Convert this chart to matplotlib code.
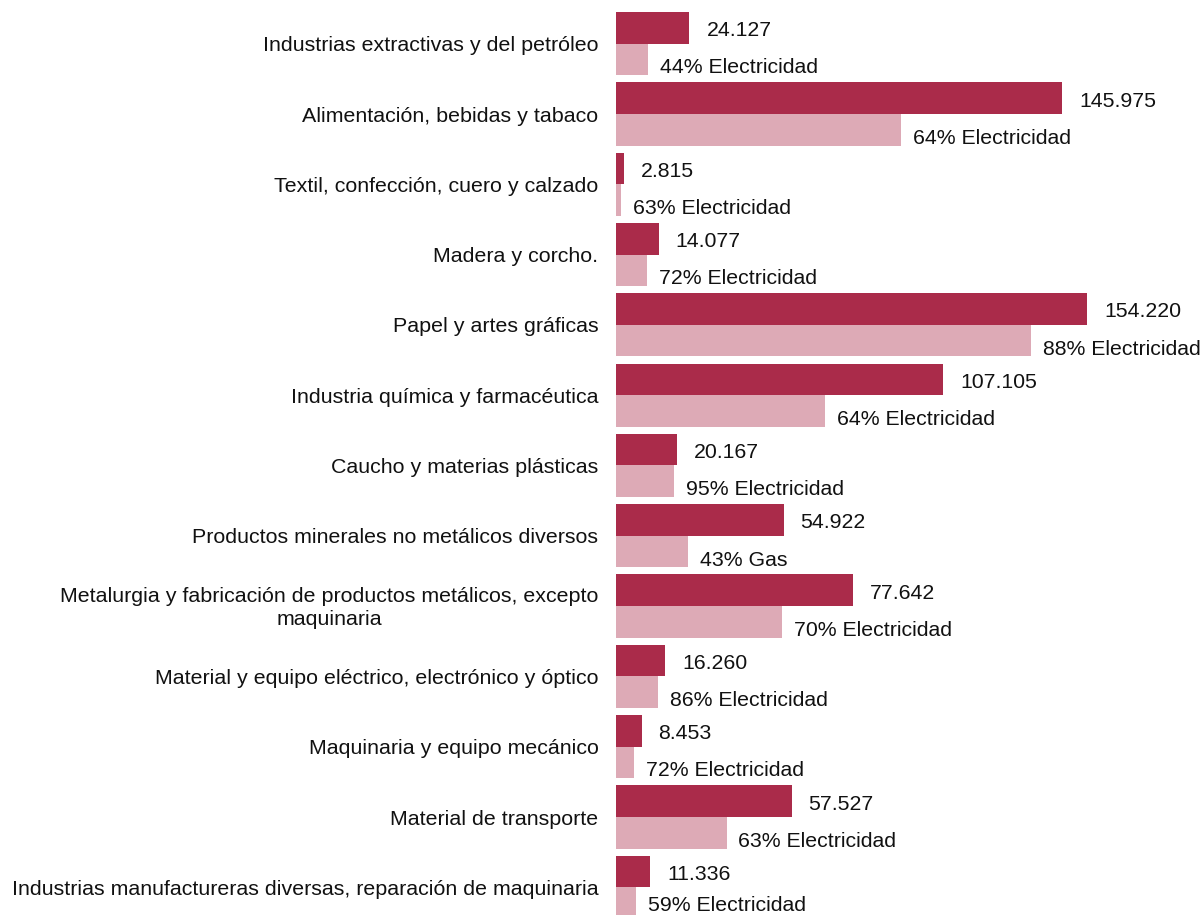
import matplotlib
matplotlib.use("Agg")
import matplotlib.pyplot as plt

# ---------------------------------------------------------------------
# Data
# ---------------------------------------------------------------------

categories = [
    "Industrias extractivas y del petróleo",
    "Alimentación, bebidas y tabaco",
    "Textil, confección, cuero y calzado",
    "Madera y corcho.",
    "Papel y artes gráficas",
    "Industria química y farmacéutica",
    "Caucho y materias plásticas",
    "Productos minerales no metálicos diversos",
    "Metalurgia y fabricación de productos metálicos, excepto\nmaquinaria",
    "Material y equipo eléctrico, electrónico y óptico",
    "Maquinaria y equipo mecánico",
    "Material de transporte",
    "Industrias manufactureras diversas, reparación de maquinaria",
]
totals = [24127, 145975, 2815, 14077, 154220, 107105, 20167, 54922, 77642, 16260, 8453, 57527, 11336]
main_share = [44, 64, 63, 72, 88, 64, 95, 43, 70, 86, 72, 63, 59]
main_source = ["Electricidad"] * 7 + ["Gas"] + ["Electricidad"] * 5

DARK = "#AA2B4A"
LIGHT = "#DDAAB6"
BAR_H = 0.45
FIG_W, FIG_H, DPI = 1203, 915, 100


def fmt_es(v: int) -> str:
    return f"{v:,}".replace(",", ".")


def main() -> None:
    plt.rcParams["font.family"] = ["Liberation Sans", "DejaVu Sans"]

    fig = plt.figure(figsize=(FIG_W / DPI, FIG_H / DPI), dpi=DPI)
    ax = fig.add_axes([615.7 / FIG_W, 0.0, 1 - 615.7 / FIG_W, 1.0])

    n = len(categories)
    pos = list(range(n))
    shares_val = [t * s / 100 for t, s in zip(totals, main_share)]

    ax.barh([p - BAR_H / 2 for p in pos], totals, height=BAR_H, color=DARK, linewidth=0)
    ax.barh([p + BAR_H / 2 for p in pos], shares_val, height=BAR_H, color=LIGHT, linewidth=0)

    px_per_unit = 70.3
    top = -BAR_H - 12 / px_per_unit
    ax.set_ylim(top + FIG_H / px_per_unit, top)
    ax.set_xlim(0, 587.3 / 3.058 * 1000)

    pt = DPI / 72.0
    fs = 15.3
    for p, t, sv, s, src, cat in zip(pos, totals, shares_val, main_share, main_source, categories):
        ax.annotate(fmt_es(t), xy=(t, p - BAR_H / 2), xytext=(12.2, -6.1),
                    textcoords="offset points", ha="left", va="baseline",
                    fontsize=fs, color="#111111", annotation_clip=False)

        # keep the share label inside the picture at the bottom edge
        y_center = (p + BAR_H / 2 - top) * px_per_unit
        drop = min(14.0, FIG_H - 4.3 - y_center)
        ax.annotate(f"{s}% {src}", xy=(sv, p + BAR_H / 2), xytext=(8.6, -drop / pt),
                    textcoords="offset points", ha="left", va="baseline",
                    fontsize=fs, color="#111111", annotation_clip=False)

        ax.annotate(cat, xy=(0, p), xytext=(-12.4, -1.5),
                    textcoords="offset points", ha="right", va="center",
                    multialignment="center", linespacing=1.25,
                    fontsize=15.4, color="#111111", annotation_clip=False)

    ax.axis("off")
    fig.savefig("out.png", dpi=DPI)
    plt.close(fig)


if __name__ == "__main__":
    main()
